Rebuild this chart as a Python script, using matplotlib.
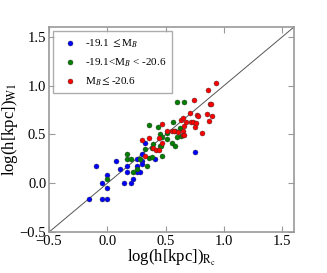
"""
Scale-length comparison: log(h) from W1 vs R_c band, split by M_B.
"""

import matplotlib
matplotlib.use("Agg")
import matplotlib.pyplot as plt

# blue: -19.1 <= M_B
blue_x = [-0.16, -0.10, -0.05, -0.05, 0.00, 0.00, 0.00, 0.07, 0.11, 0.14, 0.17, 0.17,
          0.20, 0.22, 0.25, 0.25, 0.25, 0.28, 0.30, 0.30, 0.30, 0.32, 0.41, 0.75]
blue_y = [-0.16, 0.18, 0.00, -0.16, 0.08, -0.05, -0.16, 0.23, 0.15, 0.00, 0.11, 0.18,
          0.00, 0.04, 0.11, 0.18, 0.25, 0.11, 0.30, 0.23, 0.20, 0.41, 0.25, 0.32]

# green: -19.1 < M_B < -20.6
green_x = [0.00, 0.17, 0.17, 0.20, 0.22, 0.25, 0.28, 0.32, 0.34, 0.36, 0.36, 0.38,
           0.38, 0.39, 0.43, 0.45, 0.45, 0.46, 0.47, 0.47, 0.51, 0.51, 0.55, 0.56,
           0.58, 0.58, 0.60, 0.60, 0.62, 0.63, 0.66]
green_y = [0.04, 0.30, 0.25, 0.25, 0.11, 0.15, 0.25, 0.35, 0.18, 0.60, 0.26, 0.27,
           0.36, 0.40, 0.575, 0.50, 0.38, 0.38, 0.28, 0.47, 0.45, 0.51, 0.41, 0.63,
           0.38, 0.54, 0.83, 0.47, 0.565, 0.48, 0.83]

# red: M_B <= -20.6
red_x = [0.30, 0.32, 0.36, 0.39, 0.42, 0.44, 0.44, 0.47, 0.47, 0.51, 0.55, 0.57,
         0.605, 0.63, 0.645, 0.648, 0.645, 0.656, 0.66, 0.673, 0.707, 0.716, 0.73,
         0.741, 0.755, 0.764, 0.767, 0.778, 0.81, 0.85, 0.866, 0.872, 0.88, 0.89,
         0.90, 0.932]
red_y = [0.44, 0.28, 0.46, 0.36, 0.34, 0.34, 0.46, 0.41, 0.61, 0.54, 0.53, 0.53,
         0.527, 0.65, 0.67, 0.538, 0.49, 0.49, 0.585, 0.626, 0.717, 0.626, 0.626,
         0.857, 0.575, 0.62, 0.704, 0.687, 0.517, 0.71, 0.956, 0.636, 0.81, 0.81,
         0.687, 1.03]

labels = [r"-19.1 $\leq$M$_B$", r"-19.1<M$_B$ < -20.6", r"M$_B$$\leq$-20.6"]


def main():
    plt.rcParams["font.family"] = ["Liberation Serif", "DejaVu Serif"]
    plt.rcParams["mathtext.fontset"] = "stix"

    fig = plt.figure(figsize=(3.27, 2.73), dpi=100)
    ax = fig.add_axes([0.150, 0.150, 0.749, 0.751])

    ax.plot([-0.5, 1.6], [-0.5, 1.6], color="#555555", lw=0.7, zorder=1)

    kw = dict(s=13, edgecolors="#333333", linewidths=0.3, zorder=3)
    ax.scatter(blue_x, blue_y, color="#0000ff", label=labels[0], **kw)
    ax.scatter(green_x, green_y, color="#007f00", label=labels[1], **kw)
    ax.scatter(red_x, red_y, color="#ff0000", label=labels[2], **kw)

    ax.set_xlim(-0.5, 1.6)
    ax.set_ylim(-0.5, 1.6)
    ax.set_xticks([-0.5, 0.0, 0.5, 1.0, 1.5])
    ax.set_yticks([-0.5, 0.0, 0.5, 1.0, 1.5])
    ax.tick_params(direction="in", top=True, right=True, length=4,
                   color="#999999", labelsize=10.5, pad=2)
    for sp in ax.spines.values():
        sp.set_color("#999999")
        sp.set_linewidth(1.2)

    ax.set_xlabel(r"log(h[kpc])$_{\mathrm{R_c}}$", fontsize=12, labelpad=0)
    ax.set_ylabel(r"log(h[kpc])$_{\mathrm{W1}}$", fontsize=12, labelpad=0)

    leg = ax.legend(loc="upper left", fontsize=8, scatterpoints=1,
                    fancybox=False, handletextpad=0.3, borderpad=0.5,
                    labelspacing=0.6, borderaxespad=0.4)
    leg.get_frame().set_edgecolor("#999999")
    leg.get_frame().set_linewidth(1.0)

    fig.savefig("out.png", dpi=100)


if __name__ == "__main__":
    main()
